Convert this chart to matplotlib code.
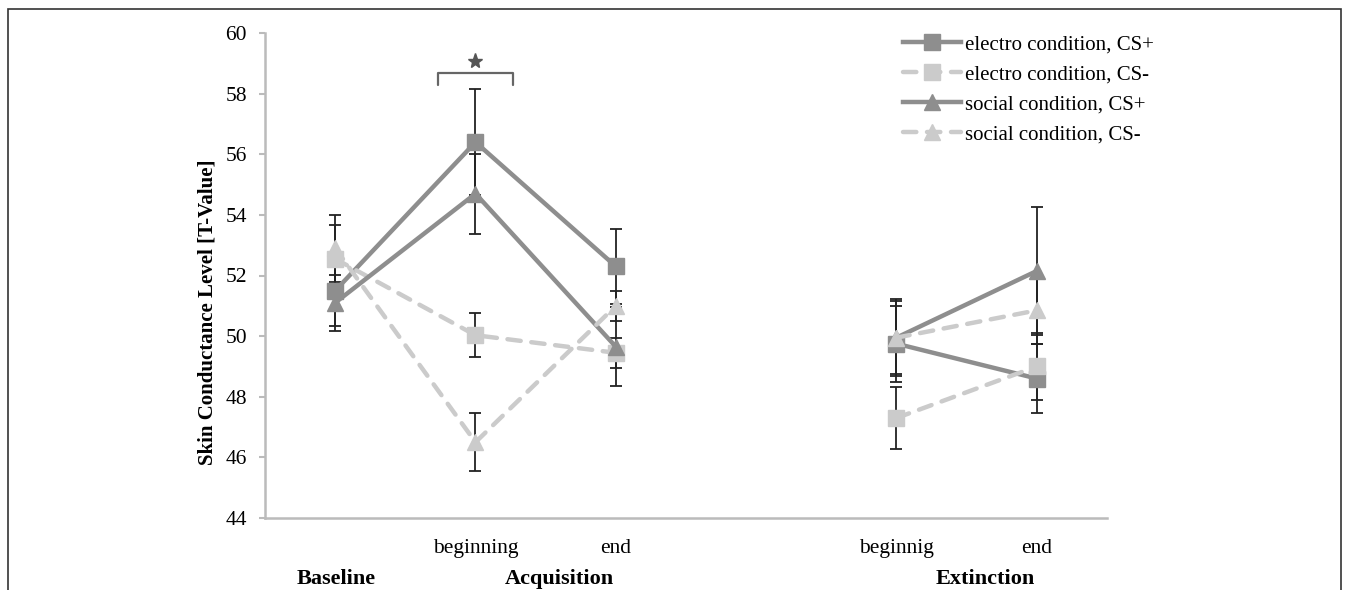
import numpy as np
import matplotlib
matplotlib.use("Agg")
import matplotlib.pyplot as plt
from matplotlib.patches import Rectangle

plt.rcParams['font.family'] = ['Liberation Serif', 'DejaVu Serif']

# positions 0..5, slot 3 left empty between acquisition and extinction
phase_ticks = ["", "beginning", "end", "", "beginnig", "end"]
groups = ["Baseline", "Acquisition", "Extinction"]
group_pos = [0.01, 1.6, 4.63]

nan = np.nan
electro_plus = [51.5, 56.4, 52.3, nan, 49.75, 48.6]
electro_plus_err = [1.16, 1.75, 1.25, nan, 1.25, 1.15]
electro_minus = [52.55, 50.03, 49.45, nan, 47.3, 49.0]
electro_minus_err = [1.1, 0.72, 0.5, nan, 1.02, 1.1]
social_plus = [51.1, 54.7, 49.65, nan, 49.95, 52.15]
social_plus_err = [0.93, 1.32, 1.3, nan, 1.2, 2.1]
social_minus = [52.9, 46.5, 51.0, nan, 49.95, 50.85]
social_minus_err = [1.1, 0.95, 0.5, nan, 1.28, 1.1]

series = [
    ("electro condition, CS+", electro_plus, electro_plus_err, "#8e8e8e", "-", "s"),
    ("electro condition, CS-", electro_minus, electro_minus_err, "#cbcbcb", "--", "s"),
    ("social condition, CS+", social_plus, social_plus_err, "#8e8e8e", "-", "^"),
    ("social condition, CS-", social_minus, social_minus_err, "#cbcbcb", "--", "^"),
]

fig = plt.figure(figsize=(13.57, 5.9), dpi=100)
ax = fig.add_axes([265 / 1357, 1 - 518 / 590, 842 / 1357, 485 / 590])

x = np.arange(6)
for label, vals, errs, col, ls, mk in series:
    v = np.array(vals)
    e = np.array(errs)
    ok = ~np.isnan(v)
    ax.errorbar(x[ok], v[ok], yerr=e[ok], fmt='none', ecolor='#222222',
                elinewidth=1.3, capsize=4.5, capthick=1.3, zorder=2)

for label, vals, errs, col, ls, mk in series:
    kw = {}
    if ls == "--":
        kw = dict(dashes=(3, 2.4), dash_capstyle='round')
    ax.plot(x, vals, color=col, lw=3.2, marker=mk, markersize=11,
            markeredgecolor=col, label=label, zorder=3, **kw)

ax.set_xlim(-0.5, 5.5)
ax.set_ylim(44, 60)
ax.set_yticks(np.arange(44, 61, 2))
ax.set_xticks(x)
ax.set_xticklabels(phase_ticks, fontsize=15.5)
ax.tick_params(axis='x', length=0, pad=15)
ax.tick_params(axis='y', length=4, width=1.5, color='#bbbbbb', labelsize=15.5, pad=9)
for s in ['top', 'right']:
    ax.spines[s].set_visible(False)
for s in ['left', 'bottom']:
    ax.spines[s].set_color('#bbbbbb')
    ax.spines[s].set_linewidth(1.8)

ax.set_ylabel("Skin Conductance Level [T-Value]", fontsize=15, fontweight='bold')
ax.yaxis.set_label_coords(-0.057, 0.425)

for g, p in zip(groups, group_pos):
    ax.text(p, -0.125, g, transform=ax.get_xaxis_transform(), ha='center', va='center',
            fontsize=16, fontweight='bold')

# significance bracket
ax.plot([0.73, 0.73, 1.27, 1.27], [58.3, 58.68, 58.68, 58.3], color='#666666', lw=1.6,
        solid_capstyle='round')
ax.plot([1.0], [59.08], marker='*', markersize=11, color='#555555', linestyle='none')

leg = ax.legend(loc='upper left', bbox_to_anchor=(0.735, 1.035), frameon=False, fontsize=15,
                handlelength=2.8, handletextpad=0.2, labelspacing=0.5)

fig.patches.append(Rectangle((8 / 1357, -0.01), 1333 / 1357, 1 - 9 / 590 + 0.01,
                             transform=fig.transFigure, fill=False, edgecolor='#333333', lw=1.2))

fig.savefig("out.png", dpi=100)
